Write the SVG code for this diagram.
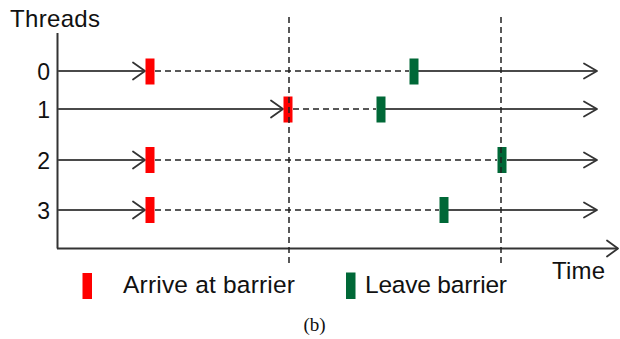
<svg xmlns="http://www.w3.org/2000/svg" width="620" height="339" viewBox="0 0 620 339">
  <style>
    .lbl { font-family: "Liberation Sans", Arial, sans-serif; fill: #111; }
    .axis { stroke: #333; stroke-width: 2; fill: none; }
    .solid { stroke: #4a4a4a; stroke-width: 2; fill: none; }
    .dash { stroke: #222; stroke-width: 1.5; stroke-dasharray: 6 4; fill: none; }
    .head { stroke: #333; stroke-width: 1.8; fill: none; stroke-linecap: round; stroke-linejoin: round; }
    .arrive { fill: #ff0000; }
    .leave { fill: #006837; }
  </style>

  <!-- axes -->
  <g id="axes">
    <line class="axis" x1="57.5" y1="33" x2="57.5" y2="248.5"/>
    <line class="axis" x1="57" y1="248.5" x2="618" y2="248.5"/>
    <polyline class="head" points="607,240.5 618,248.5 607,256.5"/>
    <text class="lbl" x="10" y="27" font-size="24" textLength="90">Threads</text>
    <text class="lbl" x="552" y="279" font-size="24" textLength="53">Time</text>
  </g>

  <!-- thread labels -->
  <g id="thread-labels" class="lbl" font-size="23" text-anchor="end">
    <text x="50" y="79.5">0</text>
    <text x="50" y="117.5">1</text>
    <text x="50" y="168.5">2</text>
    <text x="50" y="218.5">3</text>
  </g>

  <!-- timelines -->
  <g id="connectors">
    <!-- thread 0 -->
    <line class="solid" x1="58" y1="71" x2="145" y2="71"/>
    <polyline class="head" points="133,62.5 145,71 133,79.5"/>
    <line class="dash" x1="155" y1="71" x2="409" y2="71"/>
    <line class="solid" x1="418" y1="71" x2="597" y2="71"/>
    <polyline class="head" points="584,63.5 597,71 584,78.5"/>
    <!-- thread 1 -->
    <line class="solid" x1="58" y1="109" x2="283" y2="109"/>
    <polyline class="head" points="271,100.5 283,109 271,117.5"/>
    <line class="dash" x1="293" y1="109" x2="376" y2="109"/>
    <line class="solid" x1="385" y1="109" x2="597" y2="109"/>
    <polyline class="head" points="584,101.5 597,109 584,116.5"/>
    <!-- thread 2 -->
    <line class="solid" x1="58" y1="160" x2="145" y2="160"/>
    <polyline class="head" points="133,151.5 145,160 133,168.5"/>
    <line class="dash" x1="155" y1="160" x2="497" y2="160"/>
    <line class="solid" x1="507" y1="160" x2="597" y2="160"/>
    <polyline class="head" points="584,152.5 597,160 584,167.5"/>
    <!-- thread 3 -->
    <line class="solid" x1="58" y1="210" x2="145" y2="210"/>
    <polyline class="head" points="133,201.5 145,210 133,218.5"/>
    <line class="dash" x1="155" y1="210" x2="439" y2="210"/>
    <line class="solid" x1="448" y1="210" x2="597" y2="210"/>
    <polyline class="head" points="584,202.5 597,210 584,217.5"/>
  </g>

  <!-- barrier events -->
  <g id="arrive-marks">
    <rect class="arrive" x="145.5" y="58.5" width="9" height="26"/>
    <rect class="arrive" x="283.5" y="96.5" width="9" height="26"/>
    <rect class="arrive" x="145.5" y="147" width="9" height="26"/>
    <rect class="arrive" x="145.5" y="197" width="9" height="26"/>
  </g>
  <g id="leave-marks">
    <rect class="leave" x="409.5" y="58.5" width="9" height="26"/>
    <rect class="leave" x="376.5" y="96.5" width="9" height="26"/>
    <rect class="leave" x="497.5" y="147" width="9" height="26"/>
    <rect class="leave" x="439.5" y="197" width="9" height="26"/>
  </g>

  <!-- barrier time lines -->
  <g id="barriers">
    <line class="dash" x1="289" y1="17" x2="289" y2="267"/>
    <line class="dash" x1="501" y1="17" x2="501" y2="267"/>
  </g>

  <!-- legend -->
  <g id="legend-arrive">
    <rect class="arrive" x="82.5" y="273" width="9.5" height="26"/>
    <text class="lbl" x="123" y="292.5" font-size="24.5" textLength="172">Arrive at barrier</text>
  </g>
  <g id="legend-leave">
    <rect class="leave" x="346" y="272.5" width="9.5" height="26.5"/>
    <text class="lbl" x="365" y="292.5" font-size="24.5" textLength="142">Leave barrier</text>
  </g>

  <text x="314.5" y="331" font-family="'Liberation Serif', 'Times New Roman', serif" font-size="19" text-anchor="middle" fill="#111">(b)</text>
</svg>
